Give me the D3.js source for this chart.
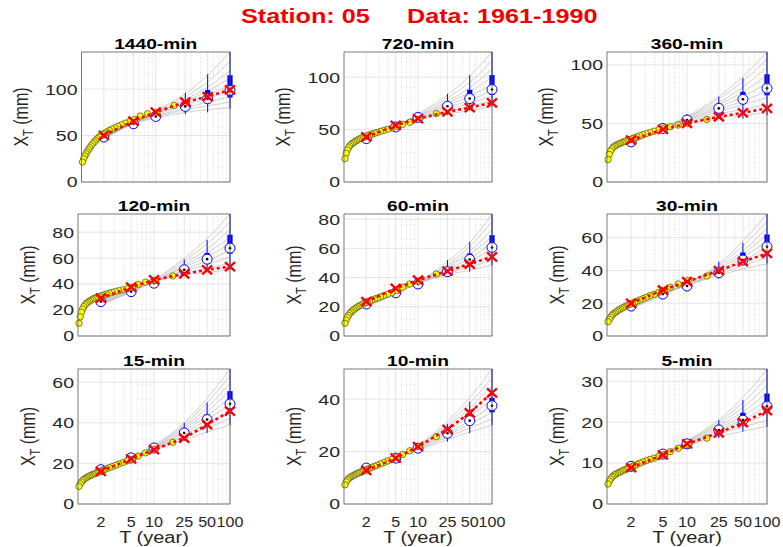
<!DOCTYPE html>
<html lang="en">
<head>
<meta charset="UTF-8">
<title>Station: 05  Data: 1961-1990</title>
<script src="https://cdn.jsdelivr.net/npm/d3@7"></script>
<style>
    body { margin: 0; background: #fff; }
    svg { display: block; font-family: "Liberation Sans", Arial, sans-serif; }
</style>
</head>
<body>
<script>
'use strict';

// durations (one panel each) and return periods of the fitted quantiles
var durations = ['1440-min', '720-min', '360-min', '120-min', '60-min', '30-min', '15-min', '10-min', '5-min'];
var returnPeriods = [2, 5, 10, 25, 50, 100];
var xTickLabels = ['2', '5', '10', '25', '50', '100'];

// empirical plotting positions (T, years) of the observed annual maxima
var plotPositions = [17.7, 10.33, 7.75, 6.2, 5.17, 4.43, 3.88, 3.44, 3.1, 2.82, 2.58, 2.38, 2.21, 2.07,
    1.94, 1.82, 1.72, 1.63, 1.55, 1.48, 1.41, 1.35, 1.29, 1.24, 1.19, 1.15, 1.11, 1.07, 1.03];

// observed annual maxima (mm), one row per duration, same order as plotPositions
var obsValues = [
    [82.4, 75, 73.5, 71, 67.4, 65, 63.4, 61.6, 60, 58.4, 57, 55.5, 54, 52.7, 51.3, 49.8, 48.4, 46.6, 44.8, 43, 41.2, 39, 36.9, 34.8, 32.6, 30.5, 28, 25.1, 21.5],
    [65.3, 59.8, 57, 55, 53, 51.5, 50.3, 49.2, 48.2, 47.3, 46.5, 45.7, 45, 44.2, 43.3, 42.6, 41.9, 41.1, 40.3, 39.5, 38.6, 37.7, 36.7, 35.6, 34.3, 32.6, 30.4, 27.3, 22.3],
    [53.4, 49.8, 48.6, 47.2, 46, 44.6, 43.4, 42.3, 41.3, 40.4, 39.5, 38.6, 37.8, 37, 36.2, 35.6, 35, 34.4, 33.8, 33.2, 32.6, 32, 31.3, 30.5, 29.5, 28.2, 26.4, 23.6, 19.1],
    [46.3, 43, 41.5, 39.8, 37.5, 36.4, 35.6, 34.9, 34.3, 33.6, 33, 32.3, 31.7, 31.1, 30.5, 30, 29.5, 28.9, 28.3, 27.6, 26.8, 26, 25.1, 24, 22.6, 20.8, 18.4, 14.8, 9.8],
    [42.4, 37.6, 35.6, 33.4, 31, 29.6, 28.5, 27.6, 26.7, 25.9, 25.2, 24.5, 23.8, 23.2, 22.5, 21.9, 21.3, 20.7, 20.1, 19.4, 18.7, 18, 17.2, 16.3, 15.3, 14.1, 12.7, 10.9, 8.7],
    [36.6, 34, 31.8, 29.8, 28, 26.6, 25.5, 24.6, 23.6, 22.8, 22, 21.3, 20.6, 20, 19.4, 18.8, 18.2, 17.6, 17.1, 16.5, 15.9, 15.3, 14.7, 14, 13.3, 12.5, 11.4, 10.2, 8.7],
    [30.4, 27, 25.2, 23.6, 22, 21.2, 20.4, 19.7, 19, 18.4, 17.9, 17.4, 16.9, 16.5, 16, 15.6, 15.2, 14.8, 14.5, 14.1, 13.8, 13.4, 13, 12.6, 12.1, 11.5, 10.8, 9.9, 8.7],
    [25.7, 21.9, 20.3, 18.9, 17.8, 17, 16.4, 15.8, 15.3, 14.8, 14.4, 14, 13.6, 13.2, 12.9, 12.6, 12.3, 12, 11.8, 11.5, 11.2, 10.9, 10.6, 10.3, 10, 9.6, 9.1, 8.4, 7.3],
    [16.1, 14.5, 13.6, 12.8, 12.1, 11.6, 11.2, 10.9, 10.6, 10.3, 10, 9.7, 9.4, 9.2, 8.9, 8.7, 8.5, 8.3, 8.1, 7.9, 7.7, 7.5, 7.3, 7.1, 6.8, 6.5, 6.1, 5.6, 4.9]
];

// fitted quantiles X_T (red x) at the return periods
var fitValues = [
    [50.2, 65.6, 75.3, 86, 92, 99.3],
    [43, 54, 60.5, 66.9, 71, 75.5],
    [35.7, 44.9, 50, 55.7, 59.1, 62.9],
    [29.1, 37.6, 43.2, 47.9, 51, 53.5],
    [23.5, 32.6, 38.3, 44.4, 49.2, 54.2],
    [19.9, 28.1, 33.2, 39.9, 45.4, 50.4],
    [16.1, 22.2, 26.8, 32.5, 39.1, 45.7],
    [12.8, 17.5, 21.9, 28.5, 34.8, 42.4],
    [8.9, 12, 14.7, 17.4, 19.9, 22.8]
];

// box plot statistics of the quantile ensemble
var boxMedian = [
    [48.4, 62.7, 70.6, 81.4, 89.6, 98.6],
    [41.4, 52.5, 61.5, 72.3, 79.6, 88.2],
    [34.3, 45.7, 52.9, 62.9, 70.6, 80],
    [26.5, 34.2, 40.7, 51, 59.2, 67.7],
    [21.9, 29.6, 35.6, 44, 52.4, 60.6],
    [18.3, 25.6, 30.5, 38.6, 46.4, 54.5],
    [16.9, 22.7, 27.6, 35, 41.6, 49.3],
    [13.7, 17.5, 21.3, 27, 31.8, 37.5],
    [9.2, 12.2, 14.7, 18.1, 20.5, 23.9]
];
var boxQ1 = [
    [47.5, 61.5, 69, 79.5, 86, 91],
    [40.5, 51.5, 60, 70, 77, 83],
    [33.5, 45, 51.5, 61, 68, 74],
    [25.8, 33.5, 39.5, 49.5, 57, 63.5],
    [21.3, 29, 34.8, 42.5, 50.5, 57.5],
    [17.8, 25, 29.8, 37.5, 45, 51.5],
    [16.5, 22.2, 27, 34.2, 41, 48.5],
    [13.4, 17.1, 20.8, 26.3, 30.8, 35],
    [9, 11.9, 14.3, 17.6, 20, 23]
];
var boxQ3 = [
    [49.5, 64, 72.5, 84, 99, 115],
    [42.5, 54, 63, 75, 88, 102],
    [35.2, 46.8, 54.5, 66, 77, 92],
    [27.3, 35, 42, 53.5, 64, 78],
    [22.5, 30.3, 36.5, 46, 56.5, 69],
    [18.8, 26.2, 31.5, 40, 51, 62],
    [17.3, 23.2, 28.3, 36, 44, 55.6],
    [14, 17.9, 21.9, 28, 33.5, 40.5],
    [9.5, 12.5, 15.1, 18.8, 22.3, 27]
];
var boxLow = [
    [46, 60, 66, 73, 75, 79],
    [39, 50, 57, 64, 68.5, 71.7],
    [32.5, 44, 48, 57, 54, 57],
    [25, 32.5, 38, 47, 50, 51],
    [20.5, 28, 33.3, 40.6, 44, 48.5],
    [17.2, 24.5, 28.5, 35.2, 43.3, 44.3],
    [16, 21.5, 26, 31, 35, 39],
    [13, 16.5, 20, 23.8, 27, 30.1],
    [8.7, 11.5, 13.7, 16.1, 17.7, 18.9]
];
var boxHigh = [
    [51, 66, 77, 96, 116, 140],
    [44, 56, 67, 84, 102, 124],
    [36.5, 47.5, 58, 73, 89, 111],
    [28, 36, 44.5, 59, 74, 94],
    [23.3, 31.2, 40, 52, 64.5, 83.5],
    [19.5, 27, 34, 45.4, 57, 74.5],
    [17.8, 24, 29.5, 40, 50, 66.5],
    [14.5, 18.5, 23, 30.5, 39, 51.5],
    [9.8, 13, 15.8, 20.5, 25.4, 33]
];

// ensemble quantile curves (grey), values at the return periods
var ensemble = [
    [[50, 63, 69, 75, 78, 80], [49, 63, 70, 78, 82, 86], [49, 64, 71, 80, 86, 92], [48, 63, 72, 83, 90, 98], [49, 64, 73, 85, 94, 104],
     [48, 64, 74, 87, 98, 112], [47, 63, 74, 89, 102, 120], [47, 64, 76, 92, 108, 130], [46, 64, 77, 95, 115, 140]],
    [[43, 54, 59, 65, 68, 72], [42, 53, 60, 67, 72, 77], [42, 53, 60, 69, 75, 82], [41, 53, 61, 71, 78, 87], [41, 53, 62, 73, 82, 93],
     [41, 53, 63, 75, 86, 100], [40, 53, 63, 77, 90, 108], [40, 53, 64, 80, 95, 116], [39, 53, 65, 83, 101, 124]],
    [[36, 46, 50, 55, 57, 59], [35, 46, 51, 58, 62, 66], [35, 46, 52, 60, 66, 72], [34, 46, 53, 62, 69, 78], [34, 46, 53, 64, 73, 84],
     [34, 46, 54, 66, 77, 91], [33, 46, 55, 68, 81, 98], [33, 46, 55, 71, 86, 105], [32, 46, 56, 73, 90, 111]],
    [[29, 37, 42, 47, 49, 51], [28, 36, 42, 48, 52, 56], [27, 35, 42, 50, 55, 61], [27, 35, 42, 51, 58, 66], [26, 35, 42, 53, 61, 71],
     [26, 34, 42, 54, 64, 76], [25, 34, 42, 56, 67, 82], [25, 34, 43, 58, 71, 88], [24, 34, 43, 60, 75, 94]],
    [[23, 31, 36, 42, 45, 48.5], [23, 31, 36, 43, 47, 52], [22, 30, 36, 44, 49, 56], [22, 30, 36, 45, 51, 60], [22, 30, 36, 46, 53, 64],
     [21, 30, 36, 47, 56, 68], [21, 30, 37, 48, 58, 73], [21, 29, 37, 49, 61, 78], [20, 29, 37, 51, 64, 83.5]],
    [[19, 26, 31, 37, 41, 44], [19, 26, 31, 38, 43, 48], [19, 26, 31, 39, 45, 51], [18, 26, 31, 39, 46, 54], [18, 26, 31, 40, 48, 58],
     [18, 26, 32, 41, 50, 62], [18, 26, 32, 42, 52, 66], [17, 25, 32, 43, 55, 70], [17, 25, 32, 44, 58, 74.5]],
    [[17, 22.5, 26.5, 31.5, 35.5, 39], [17, 22.5, 27, 33, 37.5, 42], [17, 22.7, 27.3, 34, 39.5, 45.5], [16.8, 22.7, 27.6, 35, 41.5, 49],
     [16.7, 22.7, 27.8, 36, 43.5, 52.5], [16.6, 22.8, 28, 37, 45.5, 56], [16.5, 22.8, 28.3, 38, 47.5, 59.5], [16.4, 22.8, 28.6, 39, 50, 63],
     [16.3, 22.8, 29, 40, 52, 66.5]],
    [[13.8, 17.5, 20.5, 24.5, 27.5, 30], [13.8, 17.5, 20.8, 25.5, 29, 32.5], [13.7, 17.5, 21, 26.3, 30.5, 35], [13.7, 17.5, 21.3, 27, 31.8, 37.5],
     [13.6, 17.6, 21.6, 28, 33.5, 40], [13.6, 17.6, 21.8, 29, 35, 42.5], [13.5, 17.6, 22, 29.8, 36.5, 45], [13.5, 17.7, 22.3, 30.5, 38.5, 48],
     [13.4, 17.7, 22.6, 31.5, 40.5, 51.5]],
    [[9.3, 12.1, 14.2, 16.5, 17.8, 19], [9.3, 12.1, 14.4, 17.1, 18.8, 20.5], [9.2, 12.2, 14.5, 17.6, 19.6, 22], [9.2, 12.2, 14.7, 18.1, 20.6, 23.9],
     [9.2, 12.2, 14.8, 18.6, 21.5, 25.5], [9.1, 12.2, 15, 19.1, 22.5, 27.2], [9.1, 12.3, 15.1, 19.6, 23.6, 29], [9.1, 12.3, 15.3, 20.1, 24.8, 31],
     [9, 12.3, 15.4, 20.6, 26, 33]]
];

// y axis limits and tick step per panel
var yMax = [140, 124, 111, 94, 83.5, 74.5, 66.5, 51.5, 33];
var yStep = [50, 50, 50, 20, 20, 20, 20, 20, 10];

// layout (pixels)
var W = 783, H = 547;
var colLeft = [78, 344, 607], colRight = [230, 492, 767];
var rowTop = [52, 214, 369], rowBottom = [182, 336, 504];
var SX = 1.3; // the original figure text is horizontally wide

var svg = d3.select('body').append('svg')
    .attr('width', W)
    .attr('height', H);

svg.append('rect').attr('width', W).attr('height', H).attr('fill', '#fff');

// super title
[['Station: 05', 241], ['Data: 1961-1990', 407]].forEach(function(t) {
    svg.append('text')
        .attr('transform', 'translate(' + t[1] + ',23) scale(1.2,1)')
        .attr('font-size', 21)
        .attr('font-weight', 'bold')
        .attr('fill', '#f00000')
        .text(t[0]);
});

durations.forEach(function(name, i) {
    var r = Math.floor(i / 3), c = i % 3;
    var left = i === 0 ? 81.5 : colLeft[c];
    var right = colRight[c], top = rowTop[r], bottom = rowBottom[r];

    var x = d3.scaleLog().domain([1, 100]).range([left, right]);
    var y = d3.scaleLinear().domain([0, yMax[i]]).range([bottom, top]);
    var g = svg.append('g');

    // minor log grid (dotted)
    var minor = x.ticks().filter(function(t) { return t > 1 && t < 100 && returnPeriods.indexOf(t) < 0; });
    g.selectAll('.minor').data(minor).enter().append('line')
        .attr('x1', function(d) { return x(d); }).attr('x2', function(d) { return x(d); })
        .attr('y1', top).attr('y2', bottom)
        .attr('stroke', '#c8c8c8').attr('stroke-width', 0.6)
        .attr('stroke-dasharray', '1,1.5');

    // major grid
    g.selectAll('.vmaj').data(returnPeriods).enter().append('line')
        .attr('x1', function(d) { return x(d); }).attr('x2', function(d) { return x(d); })
        .attr('y1', top).attr('y2', bottom)
        .attr('stroke', '#dedede').attr('stroke-width', 0.8);
    var yt = d3.range(0, yMax[i] + 0.001, yStep[i]);
    g.selectAll('.hmaj').data(yt).enter().append('line')
        .attr('x1', left).attr('x2', right)
        .attr('y1', function(d) { return y(d); }).attr('y2', function(d) { return y(d); })
        .attr('stroke', '#dedede').attr('stroke-width', 0.8);

    // ensemble curves
    var line = d3.line()
        .x(function(d, k) { return x(returnPeriods[k]); })
        .y(function(d) { return y(d); })
        .curve(d3.curveMonotoneX);
    g.selectAll('.ens').data(ensemble[i]).enter().append('path')
        .attr('d', line)
        .attr('fill', 'none')
        .attr('stroke', '#bdbdbd')
        .attr('stroke-width', 0.7);

    // compact box plots
    var bx = g.selectAll('.box').data(returnPeriods).enter().append('g');
    bx.append('line')
        .attr('x1', function(d) { return x(d); }).attr('x2', function(d) { return x(d); })
        .attr('y1', function(d, k) { return y(boxLow[i][k]); })
        .attr('y2', function(d, k) { return y(boxHigh[i][k]); })
        .attr('stroke', '#0000ff').attr('stroke-width', 1);
    bx.append('rect')
        .attr('x', function(d) { return x(d) - 2.6; })
        .attr('width', 5.2)
        .attr('y', function(d, k) { return y(boxQ3[i][k]); })
        .attr('height', function(d, k) { return y(boxQ1[i][k]) - y(boxQ3[i][k]); })
        .attr('fill', '#0000ff');
    bx.append('circle')
        .attr('cx', function(d) { return x(d); })
        .attr('cy', function(d, k) { return y(boxMedian[i][k]); })
        .attr('r', 5)
        .attr('fill', '#fff').attr('stroke', '#0000ff').attr('stroke-width', 1);
    bx.append('circle')
        .attr('cx', function(d) { return x(d); })
        .attr('cy', function(d, k) { return y(boxMedian[i][k]); })
        .attr('r', 1.3)
        .attr('fill', '#000');

    // observations
    g.selectAll('.obs').data(obsValues[i]).enter().append('circle')
        .attr('cx', function(d, k) { return x(plotPositions[k]); })
        .attr('cy', function(d) { return y(d); })
        .attr('r', 3.2)
        .attr('fill', '#ffff00')
        .attr('stroke', '#5a5a30')
        .attr('stroke-width', 0.8);

    // fitted quantiles
    var fitLine = d3.line()
        .x(function(d, k) { return x(returnPeriods[k]); })
        .y(function(d) { return y(d); });
    g.append('path')
        .attr('d', fitLine(fitValues[i]))
        .attr('fill', 'none')
        .attr('stroke', '#ff0000')
        .attr('stroke-width', 2.6)
        .attr('stroke-dasharray', '3,3');
    g.selectAll('.fx').data(fitValues[i]).enter().append('path')
        .attr('transform', function(d, k) { return 'translate(' + x(returnPeriods[k]) + ',' + y(d) + ')'; })
        .attr('d', 'M-5,-4.5L5,4.5M-5,4.5L5,-4.5')
        .attr('stroke', '#ff0000')
        .attr('stroke-width', 2.4);

    // axes box
    g.append('rect')
        .attr('x', left).attr('y', top)
        .attr('width', right - left).attr('height', bottom - top)
        .attr('fill', 'none').attr('stroke', '#5a5a5a').attr('stroke-width', 0.8);

    // y tick labels
    var yl = g.append('g');
    yl.selectAll('text').data(yt).enter().append('text')
        .attr('transform', function(d) { return 'translate(' + (left - 4) + ',' + y(d) + ') scale(' + SX + ',1)'; })
        .attr('dy', '0.36em')
        .attr('text-anchor', 'end')
        .attr('font-size', 15)
        .attr('fill', '#262626')
        .text(function(d) { return d; });

    // y label
    var bb = yl.node().getBBox();
    var lab = g.append('text')
        .attr('transform', 'translate(' + (bb.x - 17) + ',' + ((top + bottom) / 2) + ') scale(1.25,1) rotate(-90)')
        .attr('text-anchor', 'middle')
        .attr('font-size', 16)
        .attr('fill', '#262626');
    lab.append('tspan').text('X');
    lab.append('tspan').attr('dy', 4).attr('font-size', 11).text('T');
    lab.append('tspan').attr('dy', -4).text(' (mm)');

    // title
    g.append('text')
        .attr('transform', 'translate(' + ((left + right) / 2) + ',' + (top - 3.5) + ') scale(1.28,1)')
        .attr('text-anchor', 'middle')
        .attr('font-size', 15)
        .attr('font-weight', 'bold')
        .attr('fill', '#000')
        .text(name);

    // x ticks and label on the bottom row only
    if (r === 2) {
        g.selectAll('.xt').data(returnPeriods).enter().append('text')
            .attr('transform', function(d) { return 'translate(' + x(d) + ',527) scale(1.15,1)'; })
            .attr('text-anchor', 'middle')
            .attr('font-size', 14)
            .attr('fill', '#262626')
            .text(function(d, k) { return xTickLabels[k]; });
        g.append('text')
            .attr('transform', 'translate(' + ((left + right) / 2) + ',543) scale(1.25,1)')
            .attr('text-anchor', 'middle')
            .attr('font-size', 16)
            .attr('fill', '#262626')
            .text('T (year)');
    }
});
</script>
</body>
</html>
